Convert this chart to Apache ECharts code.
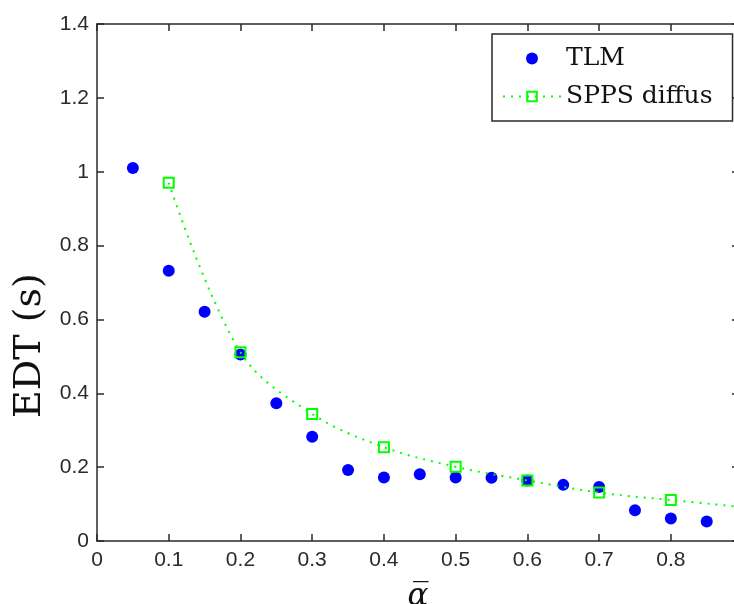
<!DOCTYPE html>
<html>
<head>
<meta charset="utf-8">
<script src="https://cdn.jsdelivr.net/npm/echarts@6/dist/echarts.min.js"></script>
<style>
html,body{margin:0;padding:0;background:#fff;}
#c{width:734px;height:604px;}
</style>
</head>
<body>
<div id="c"></div>
<script>
// Data
var tlmX = [0.05, 0.10, 0.15, 0.20, 0.25, 0.30, 0.35, 0.40, 0.45, 0.50, 0.55, 0.60, 0.65, 0.70, 0.75, 0.80, 0.85];
var tlmY = [1.010, 0.732, 0.621, 0.505, 0.373, 0.282, 0.192, 0.172, 0.181, 0.172, 0.171, 0.164, 0.152, 0.146, 0.083, 0.061, 0.053];
var sppsX = [0.10, 0.20, 0.30, 0.40, 0.50, 0.60, 0.70, 0.80, 0.90];
var sppsY = [0.970, 0.511, 0.344, 0.254, 0.201, 0.164, 0.131, 0.111, 0.092];
var yTicks = [0, 0.2, 0.4, 0.6, 0.8, 1, 1.2, 1.4];
var xTicks = [0, 0.1, 0.2, 0.3, 0.4, 0.5, 0.6, 0.7, 0.8];
var seriesNames = ['TLM', 'SPPS diffus'];
var xName = '\u03B1\u0305';
var yName = 'EDT (s)';

function zip(a, b) { return a.map(function (v, i) { return [v, b[i]]; }); }

var axisColor = '#2a2a2a';
var chart = echarts.init(document.getElementById('c'));
function axLine() { return { show: true, onZero: false, lineStyle: { color: axisColor, width: 1.5 } }; }
function axTick() { return { show: true, inside: true, length: 7, lineStyle: { color: axisColor, width: 1.5 } }; }
function tickFmt(list) {
  return function (v) { var t = list.filter(function (k) { return Math.abs(k - v) < 1e-6; }); return t.length ? String(t[0]) : ''; };
}

chart.setOption({
  animation: false,
  backgroundColor: '#ffffff',
  grid: { left: 97, top: 24, right: -5, bottom: 63, containLabel: false, outerBoundsMode: 'none' },
  legend: {
    data: [{ name: seriesNames[0] }, { name: seriesNames[1] }],
    orient: 'vertical',
    left: 492,
    top: 34,
    padding: [12, 20, 12, 10],
    itemGap: 13,
    itemWidth: 58,
    itemHeight: 12,
    backgroundColor: '#ffffff',
    borderColor: axisColor,
    borderWidth: 1.5,
    textStyle: { fontFamily: 'DejaVu Serif', fontSize: 25, color: '#111' }
  },
  xAxis: [{
    type: 'value', min: 0, max: 0.895, interval: 0.1,
    name: xName, nameLocation: 'middle', nameGap: 40,
    nameTextStyle: { fontFamily: 'DejaVu Serif', fontStyle: 'italic', fontSize: 31, color: '#111' },
    axisLine: axLine(), axisTick: axTick(),
    axisLabel: { margin: 9, showMaxLabel: false, formatter: tickFmt(xTicks), fontFamily: 'Liberation Sans', fontSize: 21, color: '#2a2a2a' },
    splitLine: { show: false }
  }, {
    type: 'value', position: 'top', min: 0, max: 0.895, interval: 0.1,
    axisLine: axLine(), axisTick: axTick(), axisLabel: { show: false }, splitLine: { show: false }
  }],
  yAxis: [{
    type: 'value', min: 0, max: 1.4, interval: 0.2,
    name: yName, nameLocation: 'middle', nameGap: 47,
    nameTextStyle: { fontFamily: 'DejaVu Serif', fontSize: 38, color: '#111', padding: [0, 126, 0, 0] },
    axisLine: axLine(), axisTick: axTick(),
    axisLabel: { margin: 8, formatter: tickFmt(yTicks), fontFamily: 'Liberation Sans', fontSize: 21, color: '#2a2a2a' },
    splitLine: { show: false }
  }, {
    type: 'value', position: 'right', min: 0, max: 1.4, interval: 0.2,
    axisLine: axLine(), axisTick: axTick(), axisLabel: { show: false }, splitLine: { show: false }
  }],
  series: [{
    name: seriesNames[0],
    type: 'scatter',
    data: zip(tlmX, tlmY),
    symbol: 'circle',
    symbolSize: 12,
    itemStyle: { color: '#0000ff', opacity: 1 }
  }, {
    name: seriesNames[1],
    type: 'line',
    data: zip(sppsX, sppsY),
    smooth: 0.35,
    symbol: 'rect',
    symbolSize: 10,
    showAllSymbol: true,
    lineStyle: { color: '#00ff00', width: 2, type: [2, 6] },
    itemStyle: { color: 'rgba(255,255,255,0)', borderColor: '#00ff00', borderWidth: 2 }
  }]
});
</script>
</body>
</html>
